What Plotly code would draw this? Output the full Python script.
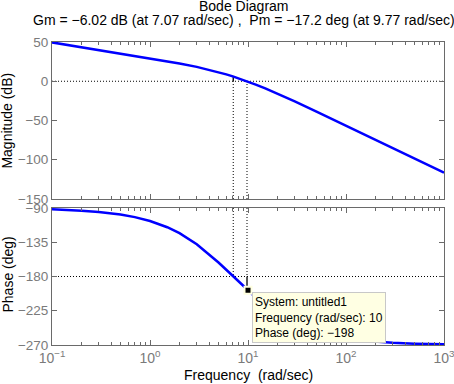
import plotly.graph_objects as go

# ---- data ----
freq = [0.1, 0.15, 0.2, 0.3, 0.5, 0.7, 1, 1.5, 2, 3, 4, 5, 6, 7, 8, 10, 12, 15, 20,
        30, 50, 70, 100, 150, 200, 300, 500, 700, 1000]
mag_db = [49.54, 46.02, 43.51, 39.98, 35.51, 32.54, 29.33, 25.55, 22.71, 18.29, 14.71,
          11.58, 8.77, 6.20, 3.82, -0.46, -4.21, -9.10, -15.77, -25.68, -38.63, -47.29,
          -56.53, -67.07, -74.55, -85.11, -98.43, -107.19, -116.48]
phase_deg = [-91.72, -92.58, -93.44, -95.15, -98.57, -101.97, -107.02, -115.23, -123.11,
             -137.66, -150.46, -161.57, -171.15, -179.45, -186.65, -198.43, -207.57,
             -217.88, -229.39, -242.11, -252.98, -257.78, -261.43, -264.28, -265.71,
             -267.14, -268.28, -268.77, -269.14]

gm_freq = 7.07
gm_db = -6.02
pm_freq = 9.77
pm_deg = -17.2
tip_freq = 10
tip_phase = -198

x_tickvals = [0.1, 1, 10, 100, 1000]
x_ticktext = ["10<sup>\u22121</sup>", "10<sup>0</sup>", "10<sup>1</sup>", "10<sup>2</sup>", "10<sup>3</sup>"]
x_minor = [m * d for d in [0.1, 1, 10, 100] for m in range(2, 10)]
mag_ticks = [-150, -100, -50, 0, 50]
phase_ticks = [-270, -225, -180, -135, -90]

title_line1 = "Bode Diagram"
title_line2 = "Gm = \u22126.02 dB (at 7.07 rad/sec) ,  Pm = \u221217.2 deg (at 9.77 rad/sec)"

FONT = "Liberation Sans"
AX = "#6a6a6a"
LBL = "#7a7a7a"

def fmt(v):
    return str(v).replace("-", "\u2212")

fig = go.Figure()
dot = dict(color="black", width=1, dash="1px,2px")
solid = dict(color="black", width=1.3)

# reference lines (magnitude)
fig.add_trace(go.Scatter(x=[freq[0], freq[-1]], y=[0, 0], mode="lines", line=dot, xaxis="x", yaxis="y"))
fig.add_trace(go.Scatter(x=[gm_freq, gm_freq], y=[-150, 0], mode="lines", line=dot, xaxis="x", yaxis="y"))
fig.add_trace(go.Scatter(x=[pm_freq, pm_freq], y=[-150, 0], mode="lines", line=dot, xaxis="x", yaxis="y"))
fig.add_trace(go.Scatter(x=[gm_freq, gm_freq], y=[0, -gm_db], mode="lines", line=solid, xaxis="x", yaxis="y"))
# reference lines (phase)
fig.add_trace(go.Scatter(x=[freq[0], freq[-1]], y=[-180, -180], mode="lines", line=dot, xaxis="x2", yaxis="y2"))
fig.add_trace(go.Scatter(x=[gm_freq, gm_freq], y=[-90, -180], mode="lines", line=dot, xaxis="x2", yaxis="y2"))
fig.add_trace(go.Scatter(x=[pm_freq, pm_freq], y=[-90, -180], mode="lines", line=dot, xaxis="x2", yaxis="y2"))
fig.add_trace(go.Scatter(x=[pm_freq, pm_freq], y=[-180, -180 + pm_deg], mode="lines", line=solid, xaxis="x2", yaxis="y2"))

# curves
fig.add_trace(go.Scatter(x=freq, y=mag_db, mode="lines", line=dict(color="#0000ff", width=2.5),
                         xaxis="x", yaxis="y"))
fig.add_trace(go.Scatter(x=freq, y=phase_deg, mode="lines", line=dict(color="#0000ff", width=2.5),
                         xaxis="x2", yaxis="y2"))
# data tip marker
fig.add_trace(go.Scatter(x=[tip_freq], y=[tip_phase], mode="markers",
                         marker=dict(symbol="square", size=7, color="black",
                                     line=dict(color="#ffffe0", width=2)),
                         xaxis="x2", yaxis="y2"))

xcommon = dict(type="log", range=[-1, 3], showline=True, linecolor=AX, linewidth=1,
               mirror="ticks", ticks="inside", ticklen=5, tickcolor=AX, tickwidth=1,
               tickvals=x_tickvals, ticktext=x_ticktext, showgrid=False, zeroline=False,
               automargin=False, ticklabeloverflow="allow",
               minor=dict(tickvals=x_minor, ticks="inside", ticklen=3, tickcolor=AX, showgrid=False),
               tickfont=dict(family=FONT, size=14, color=LBL))
ycommon = dict(showline=True, linecolor=AX, linewidth=1, mirror="ticks", ticks="inside",
               ticklen=5, tickcolor=AX, showgrid=False, zeroline=False, automargin=False,
               ticklabeloverflow="allow",
               tickfont=dict(family=FONT, size=13.5, color=LBL))

fig.update_layout(
    template="none",
    width=454, height=384,
    margin=dict(l=52, r=10, t=42, b=39, autoexpand=False),
    paper_bgcolor="white", plot_bgcolor="white",
    showlegend=False, hovermode=False,
    font=dict(family=FONT, size=14, color="black"),
    xaxis=dict(xcommon, anchor="y", showticklabels=False),
    xaxis2=dict(xcommon, anchor="y2"),
    yaxis=dict(ycommon, domain=[0.4818, 1], range=[-150, 50], anchor="x",
               tickvals=mag_ticks, ticktext=[fmt(v) for v in mag_ticks]),
    yaxis2=dict(ycommon, domain=[0, 0.4521], range=[-270, -90], anchor="x2",
                tickvals=phase_ticks, ticktext=[fmt(v) for v in phase_ticks]),
    annotations=[
        dict(text=title_line1, xref="paper", yref="paper", x=0.49, y=1.119, showarrow=False,
             xanchor="center", yanchor="middle", borderpad=0, font=dict(size=14, color="black")),
        dict(text=title_line2, xref="paper", yref="paper", x=0.49, y=1.071, showarrow=False,
             xanchor="center", yanchor="middle", borderpad=0, font=dict(size=14, color="black")),
        dict(text="Magnitude (dB)", xref="paper", yref="paper", x=-0.1135, y=0.739,
             textangle=-90, showarrow=False, xanchor="center", yanchor="middle",
             font=dict(size=14, color="black")),
        dict(text="Phase (deg)", xref="paper", yref="paper", x=-0.1135, y=0.231,
             textangle=-90, showarrow=False, xanchor="center", yanchor="middle",
             font=dict(size=14, color="black")),
        dict(text="Frequency  (rad/sec)", xref="paper", yref="paper", x=0.5, y=-0.099,
             showarrow=False, xanchor="center", yanchor="middle",
             font=dict(size=14, color="black")),
        dict(text="System: untitled1<br>Frequency (rad/sec): 10<br>Phase (deg): \u2212198",
             xref="x2", yref="y2", x=1, y=tip_phase, xanchor="left", yanchor="top",
             xshift=4, yshift=-2, showarrow=False, align="left",
             bgcolor="#ffffe3", bordercolor="#c8c8c8", borderwidth=1, borderpad=2,
             font=dict(size=12, color="black")),
    ],
)

fig.write_html("out.html", config={"displayModeBar": False},
               post_script="document.body.style.margin='0';")
